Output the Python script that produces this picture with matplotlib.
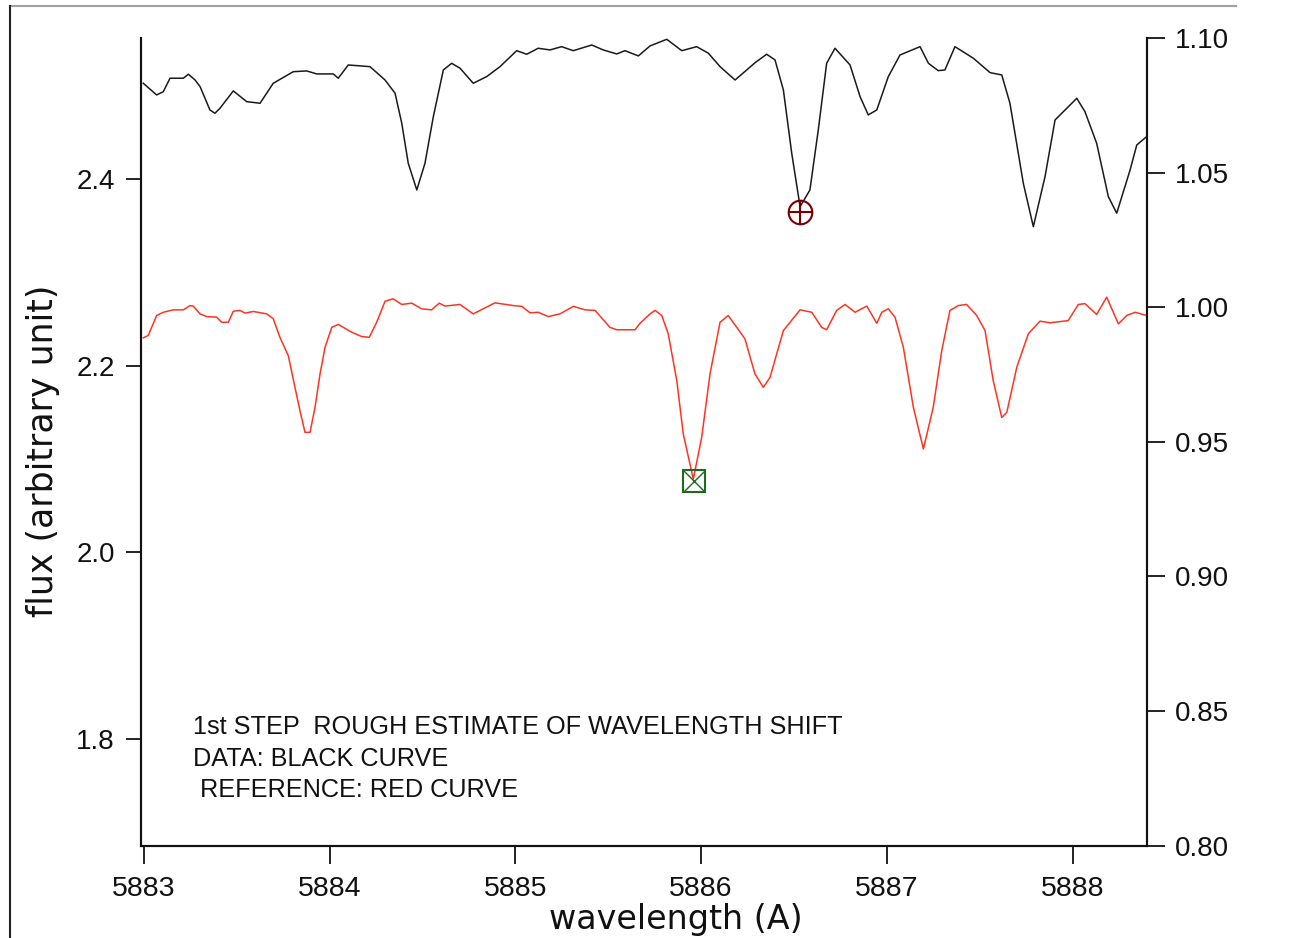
import matplotlib.pyplot as plt
from matplotlib.lines import Line2D

# observed spectrum (black, left axis)
data_wave = [5882.996, 5883.068, 5883.104, 5883.140, 5883.212, 5883.239, 5883.275, 5883.302,
             5883.355, 5883.382, 5883.409, 5883.481, 5883.553, 5883.625, 5883.696, 5883.804,
             5883.876, 5883.930, 5884.019, 5884.046, 5884.100, 5884.217, 5884.298, 5884.352,
             5884.388, 5884.423, 5884.469, 5884.513, 5884.558, 5884.612, 5884.657, 5884.702,
             5884.773, 5884.845, 5884.917, 5885.007, 5885.061, 5885.123, 5885.186, 5885.249,
             5885.312, 5885.411, 5885.473, 5885.546, 5885.590, 5885.662, 5885.725, 5885.815,
             5885.896, 5885.976, 5886.039, 5886.102, 5886.183, 5886.291, 5886.353, 5886.398,
             5886.443, 5886.488, 5886.533, 5886.586, 5886.631, 5886.676, 5886.721, 5886.802,
             5886.856, 5886.900, 5886.946, 5887.008, 5887.071, 5887.179, 5887.224, 5887.277,
             5887.313, 5887.367, 5887.466, 5887.556, 5887.619, 5887.663, 5887.735, 5887.789,
             5887.852, 5887.906, 5887.969, 5888.023, 5888.067, 5888.130, 5888.193, 5888.238,
             5888.310, 5888.346, 5888.399]
data_flux = [2.5025, 2.4900, 2.4935, 2.5079, 2.5079, 2.5122, 2.5060, 2.4989,
             2.4739, 2.4704, 2.4757, 2.4943, 2.4828, 2.4811, 2.5025, 2.5149,
             2.5157, 2.5125, 2.5125, 2.5079, 2.5221, 2.5203, 2.5060, 2.4918,
             2.4597, 2.4168, 2.3882, 2.4168, 2.4667, 2.5168, 2.5239, 2.5186,
             2.5025, 2.5096, 2.5203, 2.5374, 2.5336, 2.5400, 2.5382, 2.5417,
             2.5374, 2.5435, 2.5382, 2.5339, 2.5374, 2.5318, 2.5425, 2.5496,
             2.5374, 2.5417, 2.5347, 2.5203, 2.5060, 2.5246, 2.5336, 2.5275,
             2.4953, 2.4275, 2.3703, 2.3882, 2.4525, 2.5239, 2.5400, 2.5221,
             2.4882, 2.4686, 2.4739, 2.5096, 2.5328, 2.5417, 2.5239, 2.5160,
             2.5168, 2.5417, 2.5293, 2.5139, 2.5114, 2.4811, 2.3954, 2.3489,
             2.4025, 2.4632, 2.4757, 2.4864, 2.4721, 2.4382, 2.3810, 2.3633,
             2.4096, 2.4364, 2.4453]

# reference spectrum (red, right axis)
ref_wave = [5882.996, 5883.023, 5883.068, 5883.104, 5883.158, 5883.212, 5883.248, 5883.265,
            5883.302, 5883.338, 5883.391, 5883.418, 5883.454, 5883.481, 5883.517, 5883.544,
            5883.589, 5883.661, 5883.696, 5883.732, 5883.777, 5883.813, 5883.840, 5883.867,
            5883.894, 5883.921, 5883.948, 5883.975, 5884.011, 5884.046, 5884.118, 5884.172,
            5884.213, 5884.253, 5884.298, 5884.342, 5884.388, 5884.442, 5884.495, 5884.549,
            5884.590, 5884.621, 5884.702, 5884.773, 5884.827, 5884.890, 5884.989, 5885.034,
            5885.079, 5885.123, 5885.177, 5885.240, 5885.312, 5885.375, 5885.429, 5885.509,
            5885.546, 5885.644, 5885.671, 5885.725, 5885.752, 5885.788, 5885.823, 5885.869,
            5885.904, 5885.958, 5886.003, 5886.048, 5886.102, 5886.146, 5886.192, 5886.236,
            5886.290, 5886.335, 5886.371, 5886.443, 5886.533, 5886.596, 5886.649, 5886.676,
            5886.730, 5886.775, 5886.829, 5886.892, 5886.946, 5886.973, 5887.008, 5887.044,
            5887.089, 5887.143, 5887.197, 5887.250, 5887.296, 5887.340, 5887.385, 5887.430,
            5887.484, 5887.529, 5887.573, 5887.619, 5887.646, 5887.700, 5887.762, 5887.825,
            5887.879, 5887.977, 5888.031, 5888.067, 5888.130, 5888.184, 5888.247, 5888.292,
            5888.337, 5888.399]
ref_flux = [0.9886, 0.9895, 0.9969, 0.9981, 0.9990, 0.9990, 1.0006, 1.0004,
            0.9975, 0.9965, 0.9963, 0.9944, 0.9944, 0.9985, 0.9988, 0.9978,
            0.9984, 0.9975, 0.9957, 0.9888, 0.9820, 0.9702, 0.9615, 0.9535,
            0.9535, 0.9628, 0.9752, 0.9851, 0.9925, 0.9936, 0.9907, 0.9891,
            0.9888, 0.9944, 1.0022, 1.0031, 1.0010, 1.0015, 0.9994, 0.9990,
            1.0015, 1.0004, 1.0010, 0.9975, 0.9994, 1.0016, 1.0006, 1.0003,
            0.9979, 0.9981, 0.9965, 0.9975, 1.0003, 0.9990, 0.9988, 0.9925,
            0.9916, 0.9916, 0.9940, 0.9975, 0.9988, 0.9969, 0.9901, 0.9727,
            0.9529, 0.9361, 0.9516, 0.9752, 0.9944, 0.9969, 0.9925, 0.9882,
            0.9752, 0.9702, 0.9739, 0.9913, 0.9990, 0.9981, 0.9925, 0.9916,
            0.9988, 1.0010, 0.9981, 1.0004, 0.9940, 0.9981, 0.9994, 0.9963,
            0.9851, 0.9628, 0.9473, 0.9628, 0.9839, 0.9988, 1.0006, 1.0010,
            0.9969, 0.9913, 0.9727, 0.9590, 0.9609, 0.9777, 0.9901, 0.9948,
            0.9942, 0.9950, 1.0010, 1.0013, 0.9973, 1.0037, 0.9938, 0.9969,
            0.9981, 0.9969]

# line minima picked for the shift estimate
data_min = (5886.533, 2.365)
ref_min = (5885.962, 0.9355)

x_ticks = [5883, 5884, 5885, 5886, 5887, 5888]
left_ticks = [1.8, 2.0, 2.2, 2.4]
right_ticks = [0.80, 0.85, 0.90, 0.95, 1.00, 1.05, 1.10]

notes = ["1st STEP  ROUGH ESTIMATE OF WAVELENGTH SHIFT",
         "DATA: BLACK CURVE",
         " REFERENCE: RED CURVE"]

tick_font = ['Liberation Sans', 'DejaVu Sans']

fig = plt.figure(figsize=(12.95, 9.38), dpi=100)
ax = fig.add_axes([0.1089, 0.0986, 0.7768, 0.8609])
ax2 = ax.twinx()

ax.plot(data_wave, data_flux, color='#1a1a1a', lw=1.1)
ax.plot(*data_min, marker='o', ms=17, mfc='none', mec='#7a0000', mew=1.5)
ax.plot(*data_min, marker='+', ms=17, mec='#7a0000', mew=1.5)

ax2.plot(ref_wave, ref_flux, color='#ff3322', lw=1.1)
ax2.plot(*ref_min, marker='s', ms=16, mfc='none', mec='#1d6b1d', mew=1.5)
ax2.plot(*ref_min, marker='x', ms=16, mec='#1d6b1d', mew=1.0)

ax.set_xlim(5882.984, 5888.401)
ax.set_ylim(1.686, 2.551)
ax2.set_ylim(0.80, 1.10)

for a in (ax, ax2):
    a.spines['top'].set_visible(False)
    for s in ('left', 'right', 'bottom'):
        a.spines[s].set_linewidth(1.5)
        a.spines[s].set_color('#111111')

ax.set_xticks(x_ticks)
ax.set_xticklabels([str(v) for v in x_ticks], fontsize=20.5, family=tick_font)
ax.tick_params(axis='x', direction='out', length=13, width=1.3, pad=9, colors='#111111')

ax.set_yticks(left_ticks)
ax.set_yticklabels([f'{v:.1f}' for v in left_ticks], fontsize=20, family=tick_font)
ax.tick_params(axis='y', direction='out', length=11, width=1.3, pad=8, colors='#111111')

ax2.set_yticks(right_ticks)
ax2.set_yticklabels([f'{v:.2f}' for v in right_ticks], fontsize=20, family=tick_font)
ax2.tick_params(axis='y', direction='out', length=13, width=1.3, pad=7, colors='#111111')

for txt, yy in zip(notes, [0.1467, 0.1071, 0.0687]):
    ax.text(0.0517, yy, txt, transform=ax.transAxes, ha='left', va='center',
            fontsize=18.2, family=tick_font, color='#111111')

fig.text(675.5 / 1295, 1 - 929 / 938, 'wavelength (A)', ha='center', va='baseline',
         fontsize=24, color='#111111')
fig.text(43 / 1295, 1 - 451 / 938, 'flux (arbitrary unit)', ha='center', va='center',
         rotation=90, fontsize=25, color='#111111')

# window frame edges visible in the original screenshot
fig.add_artist(Line2D([10 / 1295, 1236 / 1295], [1 - 6 / 938, 1 - 6 / 938],
                      color='#a0a0a0', lw=1.5))
fig.add_artist(Line2D([10 / 1295, 10 / 1295], [0, 1 - 6 / 938], color='#222222', lw=1.5))

fig.savefig('out.png', dpi=100)
